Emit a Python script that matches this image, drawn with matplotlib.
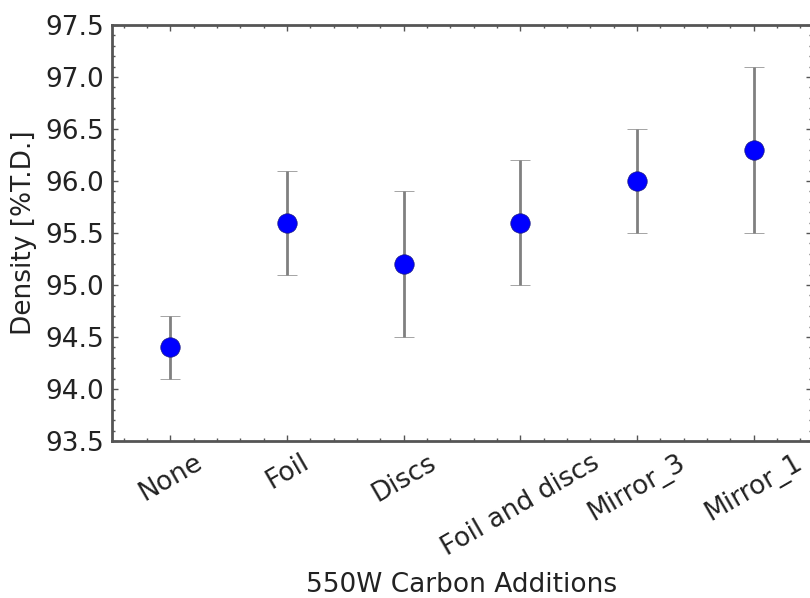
import matplotlib
matplotlib.use("Agg")
import matplotlib.pyplot as plt
from matplotlib.ticker import MultipleLocator

# density vs carbon addition
additions = ["None", "Foil", "Discs", "Foil and discs", "Mirror_3", "Mirror_1"]
density = [94.4, 95.6, 95.2, 95.6, 96.0, 96.3]
err_low = [0.3, 0.5, 0.7, 0.6, 0.5, 0.8]
err_high = [0.3, 0.5, 0.7, 0.6, 0.5, 0.8]

fig = plt.figure(figsize=(8.1, 5.98), dpi=100)
ax = fig.add_axes([112 / 810, 157 / 598, 700 / 810, 416 / 598])

x = list(range(len(additions)))
ax.errorbar(x, density, yerr=[err_low, err_high], fmt="o", color="blue",
            ecolor="gray", elinewidth=2, capsize=7, capthick=2,
            markersize=14, markeredgecolor="#1a1a80", markeredgewidth=0.5)

ax.set_xlim(-0.5, 5.5)
ax.set_ylim(93.5, 97.5)
ax.set_xticks(x)
ax.set_xticklabels(additions, rotation=30, ha="center")
ax.xaxis.set_minor_locator(MultipleLocator(0.2))
ax.yaxis.set_major_locator(MultipleLocator(0.5))
ax.yaxis.set_minor_locator(MultipleLocator(0.1))
ax.yaxis.set_major_formatter(plt.FormatStrFormatter("%.1f"))

ax.tick_params(which="both", direction="in", top=True, right=True, colors="#555555",
               labelcolor="#222222")
ax.tick_params(which="major", length=4, width=1, labelsize=19, pad=6)
ax.tick_params(which="minor", length=2, width=1)
for s in ax.spines.values():
    s.set_color("#555555")
    s.set_linewidth(2)

ax.set_xlabel("550W Carbon Additions", fontsize=19, labelpad=8, color="#222222")
ax.set_ylabel("Density [%T.D.]", fontsize=19, labelpad=6, color="#222222")

fig.savefig("out.png", dpi=100)
